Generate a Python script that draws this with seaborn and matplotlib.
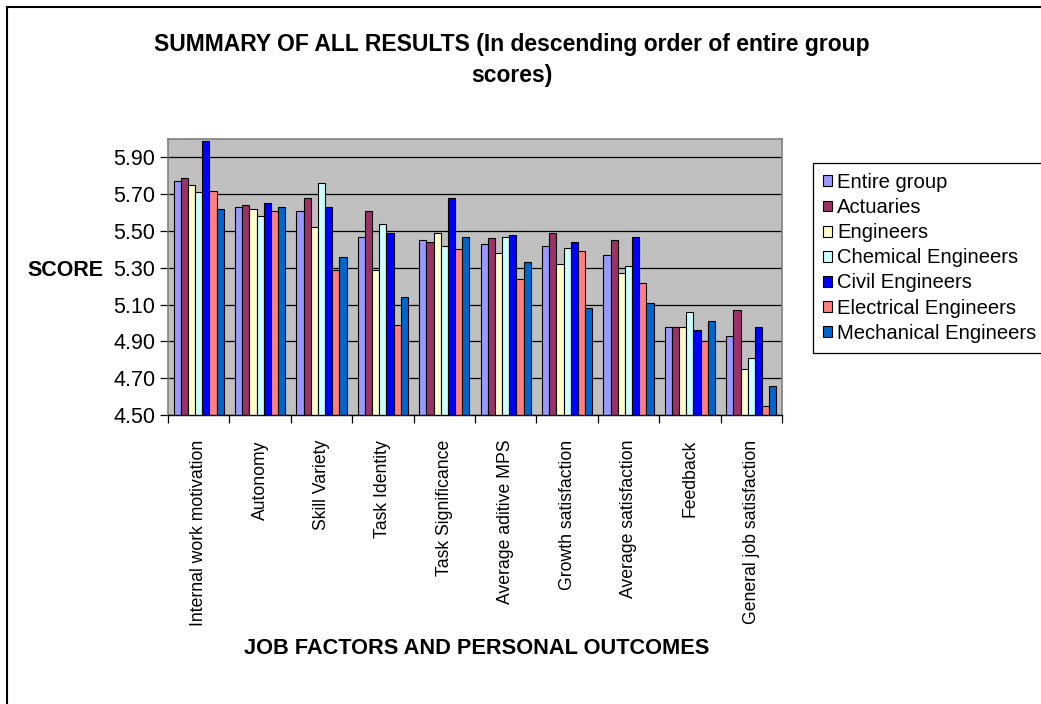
import numpy as np
import pandas as pd
import matplotlib
matplotlib.use("Agg")
import matplotlib.pyplot as plt
from matplotlib.lines import Line2D
from matplotlib.ticker import FixedLocator
import seaborn as sns

categories = [
    "Internal work motivation", "Autonomy", "Skill Variety", "Task Identity",
    "Task Significance", "Average aditive MPS", "Growth satisfaction",
    "Average satisfaction", "Feedback", "General job satisfaction",
]
groups = [
    "Entire group", "Actuaries", "Engineers", "Chemical Engineers",
    "Civil Engineers", "Electrical Engineers", "Mechanical Engineers",
]
entire_group = [5.77, 5.63, 5.61, 5.47, 5.45, 5.43, 5.42, 5.37, 4.98, 4.93]
actuaries = [5.79, 5.64, 5.68, 5.61, 5.44, 5.46, 5.49, 5.45, 4.98, 5.07]
engineers = [5.75, 5.62, 5.52, 5.29, 5.49, 5.38, 5.32, 5.27, 4.98, 4.75]
chemical = [5.71, 5.58, 5.76, 5.54, 5.42, 5.47, 5.41, 5.31, 5.06, 4.81]
civil = [5.99, 5.65, 5.63, 5.49, 5.68, 5.48, 5.44, 5.47, 4.96, 4.98]
electrical = [5.72, 5.61, 5.29, 4.99, 5.40, 5.24, 5.39, 5.22, 4.90, 4.55]
mechanical = [5.62, 5.63, 5.36, 5.14, 5.47, 5.33, 5.08, 5.11, 5.01, 4.66]
yticks = [4.50, 4.70, 4.90, 5.10, 5.30, 5.50, 5.70, 5.90]

colors = ["#9999FF", "#993366", "#FFFFCC", "#CCFFFF", "#0000FF", "#FF8080", "#0066CC"]

series = [entire_group, actuaries, engineers, chemical, civil, electrical, mechanical]
df = pd.DataFrame(
    [(c, g, v) for g, vals in zip(groups, series) for c, v in zip(categories, vals)],
    columns=["factor", "group", "score"],
)

plt.rcParams["font.family"] = ["Liberation Sans", "DejaVu Sans"]

fig = plt.figure(figsize=(10.41, 7.04), dpi=100)
ax = fig.add_axes([168 / 1041, 1 - 415 / 704, (782 - 168) / 1041, (415 - 139) / 704])

sns.barplot(
    data=df, x="factor", y="score", hue="group", order=categories,
    hue_order=groups, palette=colors, width=0.82, saturation=1,
    edgecolor="black", linewidth=0.8, ax=ax, legend=True, errorbar=None,
)

ax.set_facecolor("#C0C0C0")
ax.set_ylim(4.5, 6.0)
ax.set_xlim(-0.5, len(categories) - 0.5)
ax.set_yticks(yticks)
ax.set_yticklabels([f"{t:.2f}" for t in yticks], fontsize=15.5)
ax.yaxis.grid(True, color="black", linewidth=0.9)
ax.set_axisbelow(True)
ax.tick_params(axis="y", length=6, width=0.9, direction="out", pad=3)

ax.set_xticks(range(len(categories)))
ax.set_xticklabels(categories, rotation=90, fontsize=12.7)
ax.tick_params(axis="x", which="major", length=0, pad=18)
ax.xaxis.set_minor_locator(FixedLocator(np.arange(-0.5, len(categories), 1.0)))
ax.tick_params(axis="x", which="minor", length=6, width=0.9, direction="out")

for side in ["top", "right", "left"]:
    ax.spines[side].set_color("#808080")
    ax.spines[side].set_linewidth(1.2)
ax.spines["bottom"].set_color("black")
ax.spines["bottom"].set_linewidth(1.0)

ax.set_xlabel("")
ax.set_ylabel("")
fig.text(65 / 1041, 1 - 270 / 704, "SCORE", ha="center", va="center",
         fontsize=15.5, fontweight="bold")
fig.text(477 / 1041, 1 - 648 / 704, "JOB FACTORS AND PERSONAL OUTCOMES",
         ha="center", va="center", fontsize=15.7, fontweight="bold")
fig.text(512 / 1041, 1 - 60 / 704,
         "SUMMARY OF ALL RESULTS (In descending order of entire group\nscores)",
         ha="center", va="center", fontsize=16.5, fontweight="bold",
         linespacing=1.45)

handles, labels = ax.get_legend_handles_labels()
ax.legend_.remove()
leg = fig.legend(
    handles, labels, loc="upper left",
    bbox_to_anchor=(813 / 1041, 1 - 163 / 704), fontsize=14.6,
    frameon=True, fancybox=False, edgecolor="black", framealpha=1,
    handlelength=0.45, handleheight=0.45, handletextpad=0.25,
    labelspacing=0.3, borderpad=0.5, borderaxespad=0,
)
leg.get_frame().set_linewidth(0.9)

# outer chart frame
fig.add_artist(Line2D([7 / 1041, 7 / 1041], [0, 1 - 7 / 704],
                      transform=fig.transFigure, color="black", linewidth=1.5))
fig.add_artist(Line2D([7 / 1041, 1], [1 - 7 / 704, 1 - 7 / 704],
                      transform=fig.transFigure, color="black", linewidth=1.5))

fig.savefig("out.png", dpi=100, facecolor="white")
